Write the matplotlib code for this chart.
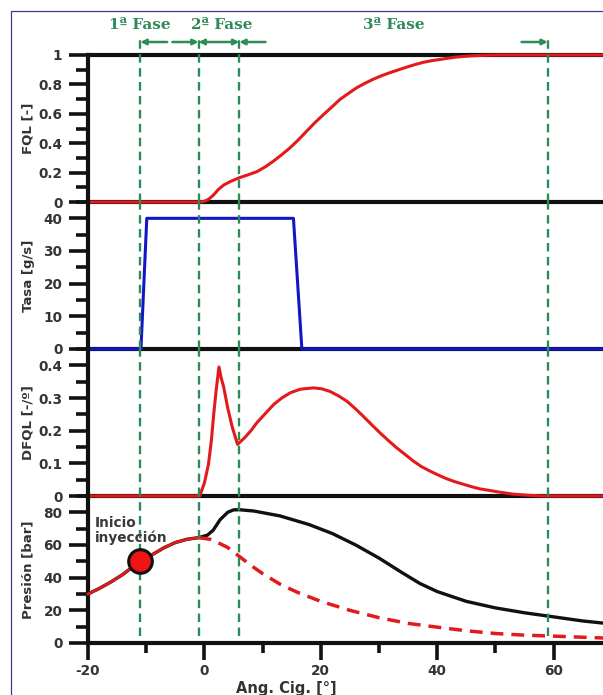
import matplotlib
matplotlib.use("Agg")
import matplotlib.pyplot as plt
import matplotlib.transforms as mtransforms
from matplotlib.patches import Rectangle
from matplotlib.ticker import MultipleLocator

plt.rcParams['font.family'] = ['DejaVu Sans']
plt.rcParams['font.weight'] = 'bold'
plt.rcParams['axes.unicode_minus'] = False

# ---------------- data ----------------
phase_lines = [-11, -1, 6, 59]
phase_labels = ["1ª Fase", "2ª Fase", "3ª Fase"]
phase_label_x = [-11.1, 3.0, 32.6]

fql_theta = [-20, -0.8, 0, 0.7, 1.5, 2.4, 3.3, 4.5, 6, 7.5, 9, 10.5, 11.9, 13.3, 14.75,
             16.2, 17.6, 19, 20.5, 22, 23.3, 24.8, 26.2, 27.6, 29, 30.5, 31.9, 33.4,
             34.8, 36.2, 37.6, 39, 40.5, 42, 43.3, 44.8, 46.2, 48, 50, 69]
fql = [0, 0, 0.005, 0.018, 0.045, 0.085, 0.115, 0.14, 0.165, 0.185, 0.206, 0.24, 0.279,
       0.322, 0.37, 0.425, 0.483, 0.54, 0.596, 0.65, 0.698, 0.74, 0.778, 0.808, 0.835,
       0.86, 0.88, 0.9, 0.918, 0.935, 0.95, 0.961, 0.97, 0.979, 0.986, 0.991, 0.995,
       0.998, 1.0, 1.0]

tasa_theta = [-20, -10.9, -9.9, 15.3, 16.75, 69]
tasa = [0, 0, 40, 40, 0, 0]

dfql_theta = [-20, -0.8, 0, 0.7, 1.2, 1.6, 2.0, 2.5, 2.9, 3.3, 4.0, 4.8, 5.7, 7, 8, 9, 10.5,
              11.9, 13.3, 14.75, 16.5, 18.75, 20.2, 21.6, 23, 24.5, 25.9, 27.3, 28.7, 30.2,
              31.6, 33, 34.5, 35.9, 37.3, 38.8, 40.2, 41.6, 43, 44.5, 46, 47.3, 49, 51, 53,
              55, 57, 58, 69]
dfql = [0, 0, 0.04, 0.097, 0.17, 0.25, 0.32, 0.395, 0.36, 0.335, 0.27, 0.21, 0.158, 0.18,
        0.2, 0.224, 0.253, 0.28, 0.3, 0.316, 0.327, 0.331, 0.328, 0.32, 0.307, 0.29, 0.268,
        0.244, 0.219, 0.193, 0.17, 0.148, 0.127, 0.107, 0.09, 0.076, 0.064, 0.053, 0.044,
        0.036, 0.028, 0.022, 0.017, 0.011, 0.006, 0.003, 0.001, 0, 0]

pre_theta = [-20, -18, -16, -14, -12, -11, -9, -7, -5, -3, -1]
pre_p = [30, 33.5, 37.5, 42, 47.5, 50, 54, 58.2, 61.5, 63.5, 64.5]

comb_theta = [-1, 0.5, 1.5, 2.7, 4, 5, 6, 8.5, 13, 18, 22, 26, 30, 34, 37, 40, 45, 50,
              55, 60, 65, 69]
comb_p = [64.5, 66, 69, 75.5, 80, 81.5, 81.6, 80.8, 77.8, 72.5, 67, 60, 52, 43, 36.5,
          31.5, 25.5, 21.5, 18.5, 16, 13.5, 12]

mot_theta = [-1, 1, 2, 4, 6, 8, 10, 13, 16, 20, 25, 30, 35, 40, 45, 50, 55, 60, 69]
mot_p = [64.5, 63.5, 62, 58.5, 53, 47.5, 42.5, 36, 31, 25.5, 20, 15.5, 12, 9.7, 7.5,
         5.8, 4.8, 4.2, 3.0]

inj_theta = [-11]
inj_p = [50]

# ---------------- styling ----------------
GREEN = '#2e8b57'
RED = '#e31a1c'
BLUE = '#1414c8'
TXT = '#333333'

fig = plt.figure(figsize=(6.03, 6.95), dpi=100)
W, H = 603.0, 695.0
left = 88 / W
width = 1.0 - left + 0.002
panel_h = 147 / H
bottoms = [(H - 643) / H + i * panel_h for i in range(4)][::-1]  # top panel first

axes = [fig.add_axes([left, b, width, panel_h]) for b in bottoms]
ax_fql, ax_tasa, ax_dfql, ax_p = axes

XMIN, XMAX = -20, 68.7
for i, ax in enumerate(axes):
    ax.set_xlim(XMIN, XMAX)
    ax.set_facecolor('none')
    for s in ['left', 'top', 'bottom']:
        ax.spines[s].set_linewidth(3.0)
        ax.spines[s].set_color('#111111')
    ax.spines['right'].set_visible(False)
    if i > 0:
        ax.spines['top'].set_visible(False)
    ax.tick_params(axis='y', which='major', length=13.5, width=2.6, color='#111111',
                   labelsize=9.8, labelcolor=TXT, pad=5)
    ax.tick_params(axis='y', which='minor', length=8.5, width=2.6, color='#111111')
    ax.tick_params(axis='x', which='both', bottom=False, labelbottom=False)

# FQL panel
ax_fql.plot(fql_theta, fql, color=RED, lw=2.2, zorder=3, clip_on=False)
ax_fql.set_ylim(0, 1)
ax_fql.set_yticks([0, 0.2, 0.4, 0.6, 0.8, 1.0])
ax_fql.set_yticklabels(['0', '0.2', '0.4', '0.6', '0.8', '1'])
ax_fql.yaxis.set_minor_locator(MultipleLocator(0.1))
ax_fql.set_ylabel('FQL [-]', fontsize=9.5, color=TXT, fontweight='bold')

# Tasa panel
ax_tasa.plot(tasa_theta, tasa, color=BLUE, lw=2.2, zorder=3, clip_on=False)
ax_tasa.set_ylim(0, 45)
ax_tasa.set_yticks([0, 10, 20, 30, 40])
ax_tasa.yaxis.set_minor_locator(MultipleLocator(5))
ax_tasa.set_ylabel('Tasa [g/s]', fontsize=9.5, color=TXT, fontweight='bold')

# DFQL panel
ax_dfql.plot(dfql_theta, dfql, color=RED, lw=2.2, zorder=3, clip_on=False)
ax_dfql.set_ylim(0, 0.45)
ax_dfql.set_yticks([0, 0.1, 0.2, 0.3, 0.4])
ax_dfql.set_yticklabels(['0', '0.1', '0.2', '0.3', '0.4'])
ax_dfql.yaxis.set_minor_locator(MultipleLocator(0.05))
ax_dfql.set_ylabel('DFQL [-/º]', fontsize=9.5, color=TXT, fontweight='bold')

# Pressure panel
ax_p.plot(pre_theta + comb_theta[1:], pre_p + comb_p[1:], color='#111111', lw=2.4,
          zorder=3, clip_on=False)
ax_p.plot(pre_theta, pre_p, color=RED, lw=2.0, zorder=3.2, clip_on=False)
ax_p.plot(mot_theta, mot_p, color=RED, lw=2.5, ls=(0, (3.7, 2.3)), zorder=3.1,
          clip_on=False)
ax_p.plot(inj_theta, inj_p, 'o', ms=17, mfc='#f01414', mec='#111111', mew=2.2,
          zorder=6, clip_on=False)
ax_p.set_ylim(0, 90)
ax_p.set_yticks([0, 20, 40, 60, 80])
ax_p.yaxis.set_minor_locator(MultipleLocator(10))
ax_p.set_ylabel('Presión [bar]', fontsize=9.5, color=TXT, fontweight='bold')
ax_p.text(-18.9, 78, 'Inicio\ninyección', fontsize=9.8, color='#3a3a3a',
          fontweight='bold', ha='left', va='top', linespacing=1.1, zorder=7)

ax_p.tick_params(axis='x', which='major', bottom=True, labelbottom=True, length=12,
                 width=2.6, color='#111111', labelsize=9.8, labelcolor=TXT, pad=3)
ax_p.tick_params(axis='x', which='minor', bottom=True, length=7, width=2.6,
                 color='#111111')
ax_p.set_xticks([-20, 0, 20, 40, 60])
ax_p.xaxis.set_minor_locator(MultipleLocator(10))
fig.text(286 / W, 1 - 688 / H, 'Ang. Cig. [°]', fontsize=10.5, color=TXT,
         fontweight='bold', ha='center', va='center')

for ax in axes:
    ax.yaxis.set_label_coords(-0.103, 0.5)

# phase dashed lines
dash = (0, (3.6, 2.3))
for x in phase_lines:
    ax_fql.axvline(x, ymin=0, ymax=1 + 17 / 147, color=GREEN, lw=1.7, ls=dash,
                   zorder=5, clip_on=False)
    ax_tasa.axvline(x, color=GREEN, lw=1.7, ls=dash, zorder=5)
    ax_dfql.axvline(x, color=GREEN, lw=1.7, ls=dash, zorder=5)
    ax_p.axvline(x, ymin=0.05, ymax=1, color=GREEN, lw=1.7, ls=dash, zorder=5)

# phase labels and arrows
blend = mtransforms.blended_transform_factory(ax_fql.transData, fig.transFigure)
y_txt = 1 - 25 / H
for lab, xc in zip(phase_labels, phase_label_x):
    fig.text(xc, y_txt, lab, transform=blend, fontsize=11, color=GREEN,
             family='DejaVu Serif', fontweight='bold', ha='center', va='center')

y_arr = 1 - 42 / H
arrows = [(-6.4, -11, '-|>'), (-5.5, -1, '-|>'), (-1, 6, '<|-|>'), (10.5, 6, '-|>'),
          (54.5, 59, '-|>')]
for x0, x1, st in arrows:
    ax_fql.annotate('', xy=(x1, y_arr), xytext=(x0, y_arr), xycoords=blend,
                    textcoords=blend,
                    arrowprops=dict(arrowstyle=st, color=GREEN, lw=1.8,
                                    mutation_scale=8, shrinkA=0, shrinkB=0))

# thin navy frame
frame_top = 1 - 11 / H
fig.add_artist(Rectangle((11 / W, -0.2), 1.2, frame_top + 0.2,
                         transform=fig.transFigure, fill=False,
                         edgecolor='#3b3b8f', lw=0.9, zorder=0))

fig.savefig('out.png', dpi=100)
